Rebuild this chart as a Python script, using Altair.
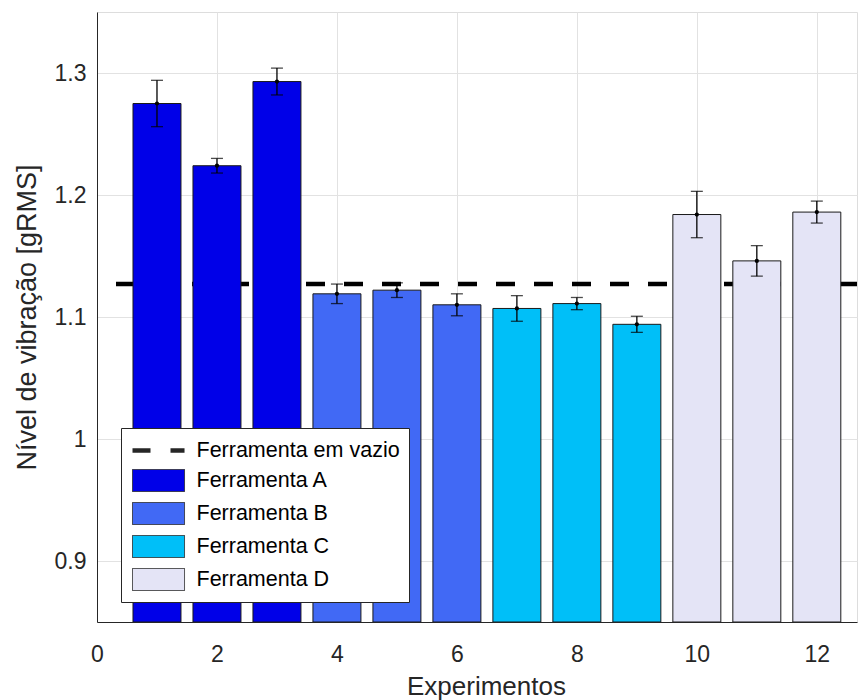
import altair as alt
import pandas as pd

# ---- data ----
experiments = [1, 2, 3, 4, 5, 6, 7, 8, 9, 10, 11, 12]
vibration = [1.275, 1.224, 1.293, 1.119, 1.122, 1.110, 1.107, 1.111, 1.094, 1.184, 1.146, 1.186]
errors = [0.019, 0.006, 0.011, 0.008, 0.006, 0.009, 0.0105, 0.005, 0.0066, 0.019, 0.0125, 0.009]
tools = ["Ferramenta A"] * 3 + ["Ferramenta B"] * 3 + ["Ferramenta C"] * 3 + ["Ferramenta D"] * 3
tool_names = ["Ferramenta A", "Ferramenta B", "Ferramenta C", "Ferramenta D"]
tool_colors = ["#0000e8", "#4169f5", "#00bff8", "#e4e4f6"]
empty_label = "Ferramenta em vazio"
empty_level = [1.127]
legend_labels = [empty_label] + tool_names
legend_colors = ["#000000"] + tool_colors
legend_shapes = ["M-1,0H3.73"] + ["M-1,-1H3.73V1H-1Z"] * 4
legend_widths = [4.5, 1, 1, 1, 1]
legend_dashes = [[18, 20], [1, 0], [1, 0], [1, 0], [1, 0]]
x_ticks = [0, 2, 4, 6, 8, 10, 12]
y_ticks = [0.9, 1.0, 1.1, 1.2, 1.3]
x_domain = [0, 12.67]
y_domain = [0.85, 1.35]

df = pd.DataFrame({"exp": experiments, "value": vibration, "err": errors, "tool": tools})
df_empty = pd.DataFrame({"level": empty_level})

FONT = "Liberation Sans"
TXT = "#262626"

xs = alt.Scale(domain=x_domain, nice=False, zero=False)
ys = alt.Scale(domain=y_domain, nice=False, zero=False)

xaxis = alt.Axis(values=x_ticks, format="d", title="Experimentos", grid=True,
                 gridColor="#e2e2e2", gridWidth=1, domainColor=TXT, domainWidth=1,
                 ticks=False, tickSize=0, labelFont=FONT, labelFontSize=23,
                 labelColor=TXT, labelPadding=21, labelFlush=False,
                 titleFont=FONT, titleFontSize=26,
                 titleFontWeight="normal", titleColor=TXT, titleX=389, titleY=72,
                 titleBaseline="alphabetic", titleAlign="center")
yaxis = alt.Axis(values=y_ticks,
                 labelExpr="datum.value == 1 ? '1' : format(datum.value, '.1f')",
                 title="Nível de vibração [gRMS]", grid=True, gridColor="#e2e2e2",
                 gridWidth=1, domainColor=TXT, domainWidth=1, ticks=False, tickSize=0,
                 labelFont=FONT, labelFontSize=23, labelColor=TXT, labelPadding=11,
                 labelFlush=False,
                 titleFont=FONT, titleFontSize=27, titleFontWeight="normal",
                 titleColor=TXT, titleAngle=270, titleX=-62, titleY=305,
                 titleBaseline="alphabetic", titleAlign="center")

legend = alt.Legend(title=None, orient="none", legendX=24, legendY=416,
                    fillColor="white", strokeColor="#262626", padding=9,
                    cornerRadius=0, labelFont=FONT, labelFontSize=21.5, labelColor="#000000",
                    labelLimit=400, symbolSize=484, rowPadding=6, labelOffset=39.5,
                    symbolOpacity=1)

empty_rule = alt.Chart(df_empty).mark_rule(
    strokeDash=[19, 19], strokeWidth=4.5, color="#000000"
).encode(y=alt.Y("level:Q", scale=ys, axis=yaxis))

bar_layers = []
for name, col in zip(tool_names, tool_colors):
    bar_layers.append(
        alt.Chart(df).transform_filter(alt.datum.tool == name).transform_calculate(
            x0="datum.exp - 0.4", x1="datum.exp + 0.4"
        ).mark_rect(fill=col, stroke="#1a1a1a", strokeWidth=1, clip=True).encode(
            x=alt.X("x0:Q", scale=xs, axis=xaxis),
            x2="x1:Q",
            y=alt.Y("value:Q", scale=ys, axis=yaxis),
            y2=alt.datum(y_domain[0]),
        )
    )

base_err = alt.Chart(df).transform_calculate(
    lo="datum.value - datum.err", hi="datum.value + datum.err"
)
err_rule = base_err.mark_rule(color="#000000", strokeWidth=1.3).encode(
    x=alt.X("exp:Q", scale=xs, axis=xaxis),
    y=alt.Y("lo:Q", scale=ys, axis=yaxis),
    y2="hi:Q",
)
cap_lo = base_err.mark_tick(orient="horizontal", size=12, thickness=1.3, color="#000000").encode(
    x=alt.X("exp:Q", scale=xs, axis=xaxis),
    y=alt.Y("lo:Q", scale=ys, axis=yaxis),
)
cap_hi = base_err.mark_tick(orient="horizontal", size=12, thickness=1.3, color="#000000").encode(
    x=alt.X("exp:Q", scale=xs, axis=xaxis),
    y=alt.Y("hi:Q", scale=ys, axis=yaxis),
)
dots = alt.Chart(df).mark_circle(size=18, color="#000000", opacity=1).encode(
    x=alt.X("exp:Q", scale=xs, axis=xaxis),
    y=alt.Y("value:Q", scale=ys, axis=yaxis),
)

# legend carrier: draws no points, only provides the legend entries
legend_layer = alt.Chart(df).transform_filter("false").mark_point(
    filled=True, opacity=1, stroke="#262626", size=484
).encode(
    x=alt.X("exp:Q", scale=xs, axis=xaxis),
    y=alt.Y("value:Q", scale=ys, axis=yaxis),
    color=alt.Color("tool:N", scale=alt.Scale(type="ordinal", domain=legend_labels, range=legend_colors), legend=legend),
    shape=alt.Shape("tool:N", scale=alt.Scale(type="ordinal", domain=legend_labels, range=legend_shapes), legend=legend),
    strokeWidth=alt.StrokeWidth("tool:N", scale=alt.Scale(type="ordinal", domain=legend_labels, range=legend_widths), legend=legend),
    strokeDash=alt.StrokeDash("tool:N", scale=alt.Scale(type="ordinal", domain=legend_labels, range=legend_dashes), legend=legend),
)

chart = alt.layer(empty_rule, *bar_layers, err_rule, cap_lo, cap_hi, dots, legend_layer).properties(
    width=760, height=610,
    autosize=alt.AutoSizeParams(type="none"),
    padding={"left": 89, "top": 4, "right": 1, "bottom": 79},
).configure_view(stroke=None).configure(font=FONT, background="white")

chart.save("out.html", embed_options={"renderer": "svg", "actions": False})
